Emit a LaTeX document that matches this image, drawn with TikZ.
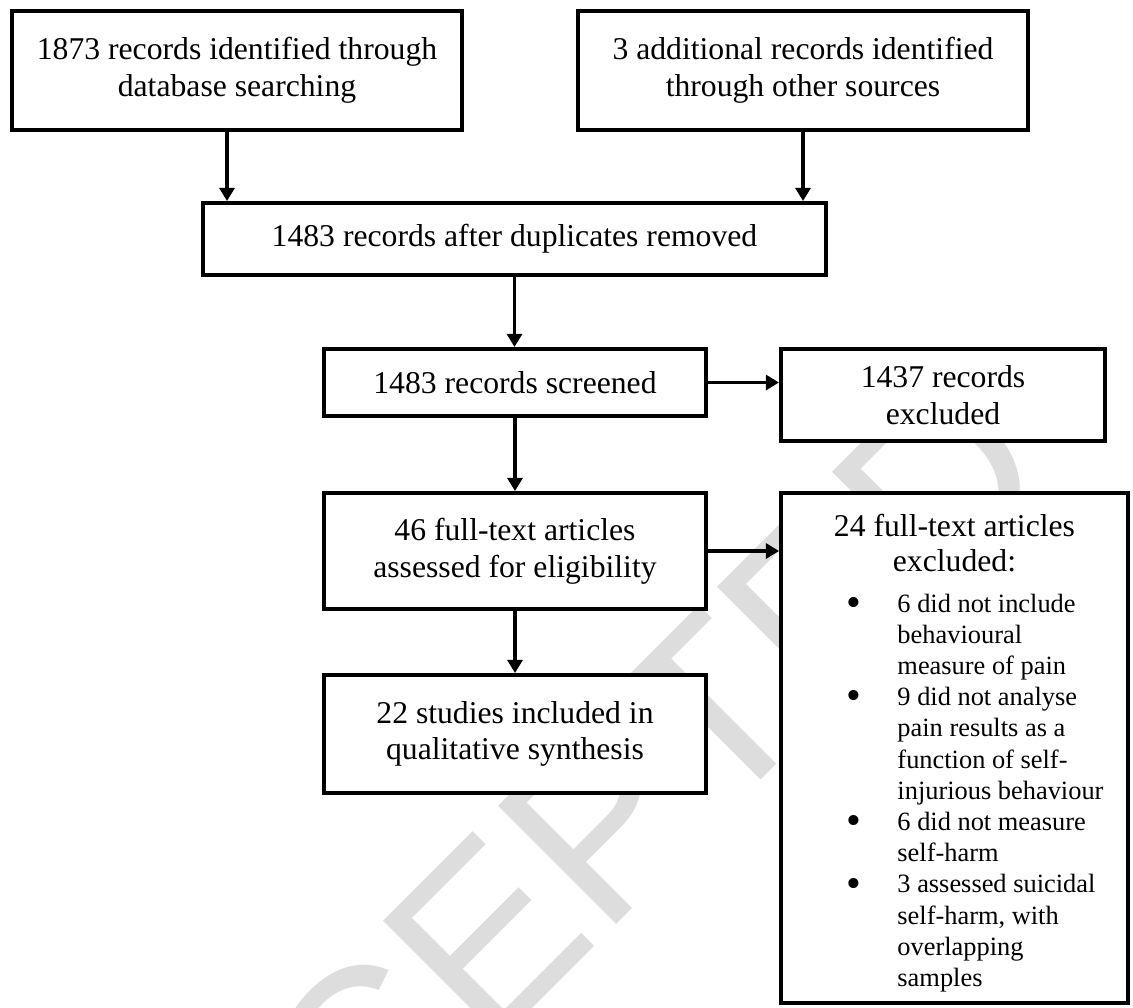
\documentclass[tikz,border=0pt]{standalone}
\usepackage{fontspec}
\setmainfont{Liberation Serif}
\newfontfamily\wmfont{Liberation Sans}
\usetikzlibrary{arrows.meta}
\definecolor{wmgray}{gray}{0.865}
\newcommand{\pxu}{0.3788pt}
\newcommand{\bigbul}{\raisebox{-1.6pt}{\scalebox{1.6}{\textbullet}}}

\begin{document}
\begin{tikzpicture}[x=\pxu,y=-\pxu,
        box/.style={draw,fill=white,line width=1.5pt,align=center,inner sep=0pt,
            font=\fontsize{12}{13.9}\selectfont},
        arr/.style={-{Triangle[width=5.7pt,length=5pt]},line width=1.3pt}]
    \useasboundingbox (0,0) rectangle (1133,1007);
    % watermark behind everything
    \begin{scope}
        \clip (0,0) rectangle (1133,1007);
        \node[rotate=45,anchor=base west,inner sep=0pt,text=wmgray,
            font=\wmfont\fontsize{92}{92}\selectfont] (wm) at (125,1416) {ACCEPTED};
    \end{scope}
    % identification
    \node[box,minimum width=450*\pxu,minimum height=119*\pxu] (ident) at (237,70.5)
        {1873 records identified through\\database searching};
    \node[box,minimum width=450*\pxu,minimum height=119*\pxu] (other) at (803,70.5)
        {3 additional records identified\\through other sources};
    \node[box,minimum width=623*\pxu,minimum height=72*\pxu] (dupl) at (514.5,239)
        {1483 records after duplicates removed};
    % screening
    \node[box,minimum width=382*\pxu,minimum height=67*\pxu] (scr) at (515,382.5)
        {1483 records screened};
    \node[box,minimum width=324*\pxu,minimum height=92*\pxu] (excl1) at (943,395)
        {1437 records\\excluded};
    % eligibility
    \node[box,minimum width=382*\pxu,minimum height=116*\pxu] (elig) at (515,551)
        {46 full-text articles\\assessed for eligibility};
    \node[box,minimum width=347*\pxu,minimum height=510*\pxu] (excl2) at (954.5,748) {};
    \node[anchor=base,inner sep=0pt,font=\fontsize{12}{13.6}\selectfont] (excl2t) at (954.5,536)
        {\begin{tabular}[t]{@{}c@{}}24 full-text articles\\excluded:\end{tabular}};
    \node[anchor=base west,inner sep=0pt,font=\fontsize{10}{11.82}\selectfont] (excl2l) at (846,612)
        {\begin{tabular}[t]{@{}p{19.3pt}@{}l@{}}
            \bigbul & 6 did not include\\
                    & behavioural\\
                    & measure of pain\\
            \bigbul & 9 did not analyse\\
                    & pain results as a\\
                    & function of self-\\
                    & injurious behaviour\\
            \bigbul & 6 did not measure\\
                    & self-harm\\
            \bigbul & 3 assessed suicidal\\
                    & self-harm, with\\
                    & overlapping\\
                    & samples
        \end{tabular}};
    % included
    \node[box,minimum width=382*\pxu,minimum height=118*\pxu] (incl) at (515,734)
        {22 studies included in\\qualitative synthesis};
    % connectors
    \coordinate (a1) at ([xshift=-10*\pxu]ident.south);
    \draw[arr] (a1) -- (a1 |- dupl.north);
    \draw[arr] (other.south) -- (other.south |- dupl.north);
    \draw[arr] (dupl.south) -- (dupl.south |- scr.north);
    \draw[arr] (scr.east) -- (scr.east -| excl1.west);
    \draw[arr] (scr.south) -- (elig.north);
    \draw[arr] (elig.east) -- (elig.east -| excl2.west);
    \draw[arr] (elig.south) -- (incl.north);
\end{tikzpicture}
\end{document}
